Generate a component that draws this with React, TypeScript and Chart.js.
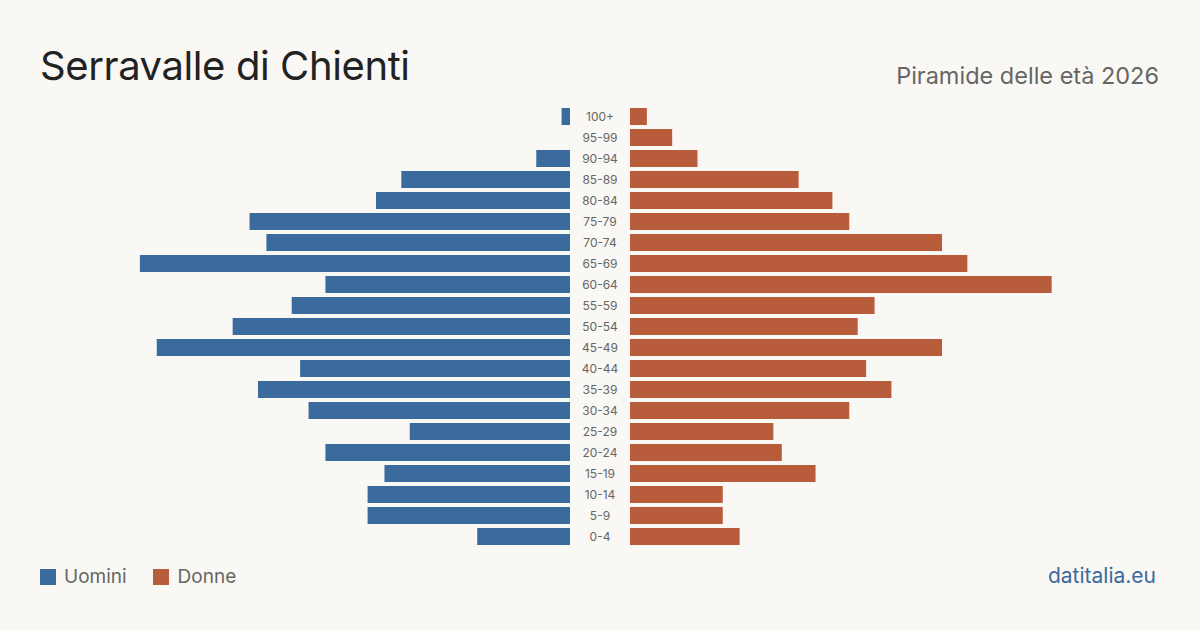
import React, { useEffect, useRef } from "react";
import { Chart, registerables } from "chart.js";

Chart.register(...registerables);

const ageGroups = ["100+", "95-99", "90-94", "85-89", "80-84", "75-79", "70-74", "65-69", "60-64", "55-59", "50-54", "45-49", "40-44", "35-39", "30-34", "25-29", "20-24", "15-19", "10-14", "5-9", "0-4"];
const men = [1, 0, 4, 20, 23, 38, 36, 51, 29, 33, 40, 49, 32, 37, 31, 19, 29, 22, 24, 24, 11];
const women = [2, 5, 8, 20, 24, 26, 37, 40, 50, 29, 27, 37, 28, 31, 26, 17, 18, 22, 11, 11, 13];
const title = "Serravalle di Chienti";
const subtitle = "Piramide delle età 2026";
const legendLabels = ["Uomini", "Donne"];
const source = "datitalia.eu";

const BLUE = "#3b6a9c";
const ORANGE = "#b95c3b";
const BG = "#f9f8f4";
const FONT = "Inter, 'Noto Sans', sans-serif";
const MAX = 60;

export default function App() {
  const leftRef = useRef<HTMLCanvasElement>(null);
  const rightRef = useRef<HTMLCanvasElement>(null);

  useEffect(() => {
    document.body.style.margin = "0";
    document.body.style.background = BG;
    const common: any = {
      responsive: false,
      animation: false,
      maintainAspectRatio: false,
      plugins: { legend: { display: false }, tooltip: { enabled: false } },
      layout: { padding: 0 },
    };
    const make = (el: HTMLCanvasElement, data: number[], color: string, reverse: boolean) =>
      new Chart(el, {
        type: "bar",
        data: {
          labels: ageGroups,
          datasets: [{ data, backgroundColor: color, barPercentage: 0.81, categoryPercentage: 1 }],
        },
        options: {
          ...common,
          indexAxis: "y",
          scales: {
            x: { display: false, reverse, min: 0, max: MAX },
            y: { display: false },
          },
        },
      });
    const left = make(leftRef.current!, men, BLUE, true);
    const right = make(rightRef.current!, women, ORANGE, false);
    return () => {
      left.destroy();
      right.destroy();
    };
  }, []);

  return (
    <div style={{ position: "fixed", left: 0, top: 0, width: 1200, height: 630, background: BG, fontFamily: FONT, overflow: "hidden" }}>
      <div style={{ position: "absolute", left: 40, top: 38, fontSize: 40, letterSpacing: "-0.4px", color: "#222", whiteSpace: "pre", lineHeight: "56px" }}>{title}</div>
      <div style={{ position: "absolute", right: 41, top: 60, fontSize: 23.5, color: "#666", lineHeight: "32px" }}>{subtitle}</div>
      <canvas ref={leftRef} width={506} height={441} style={{ position: "absolute", left: 64, top: 106, width: 506, height: 441 }} />
      <div style={{ position: "absolute", left: 570, top: 106, width: 60, height: 441, display: "flex", flexDirection: "column" }}>
        {ageGroups.map((g) => (
          <div key={g} style={{ height: 21, lineHeight: "21px", textAlign: "center", fontSize: 12, color: "#666" }}>{g}</div>
        ))}
      </div>
      <canvas ref={rightRef} width={506} height={441} style={{ position: "absolute", left: 630, top: 106, width: 506, height: 441 }} />
      <div style={{ position: "absolute", left: 40, top: 565, display: "flex", alignItems: "center", fontSize: 19, color: "#666" }}>
        <span style={{ width: 16, height: 16, background: BLUE, display: "inline-block", marginRight: 8 }} />
        <span style={{ marginRight: 26 }}>{legendLabels[0]}</span>
        <span style={{ width: 16, height: 16, background: ORANGE, display: "inline-block", marginRight: 9 }} />
        <span>{legendLabels[1]}</span>
      </div>
      <div style={{ position: "absolute", right: 44, top: 562, fontSize: 21, color: BLUE, lineHeight: "28px" }}>{source}</div>
    </div>
  );
}
